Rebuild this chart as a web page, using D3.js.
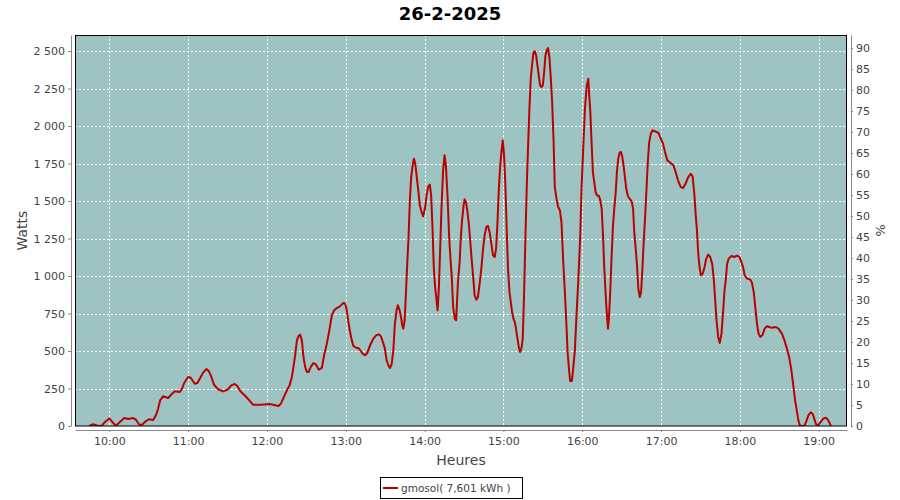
<!DOCTYPE html>
<html><head><meta charset="utf-8">
<script src="https://cdn.jsdelivr.net/npm/d3@7"></script>
<style>body{margin:0;background:#fff}</style>
</head><body><svg id="c" width="900" height="500"></svg>
<script>
const chartTitle = "26-2-2025";
const seriesName = "gmosol( 7,601 kWh )";
const times = [
"09:44:36","09:46:00","09:47:48","09:50:24","09:54:12","09:56:42","10:00:00","10:02:18","10:04:54","10:08:06",
"10:11:24","10:14:24","10:18:12","10:20:18","10:22:36","10:24:36","10:27:06","10:30:12","10:33:24","10:35:30",
"10:37:12","10:38:42","10:41:00","10:44:48","10:47:54","10:49:54","10:53:42","10:55:24","10:57:00","11:00:00",
"11:02:00","11:05:06","11:07:06","11:09:36","11:11:24","11:14:00","11:15:42","11:17:42","11:19:42","11:22:48",
"11:26:36","11:29:54","11:32:54","11:35:30","11:37:30","11:39:48","11:43:00","11:46:06","11:49:24","11:55:42",
"12:02:00","12:06:18","12:08:48","12:10:36","12:12:36","12:15:12","12:17:12","12:19:00","12:20:12","12:21:30",
"12:22:48","12:24:00","12:25:18","12:26:36","12:27:48","12:29:06","12:30:24","12:31:36","12:33:24","12:35:24",
"12:37:24","12:39:30","12:41:48","12:43:30","12:45:36","12:47:30","12:49:24","12:51:06","12:53:12","12:55:06",
"12:57:00","12:58:12","12:59:30","13:00:48","13:02:00","13:03:18","13:04:36","13:05:48","13:07:48","13:09:54",
"13:11:24","13:12:54","13:14:42","13:16:24","13:18:30","13:21:00","13:23:06","13:25:06","13:26:48","13:28:36",
"13:29:48","13:31:06","13:32:24","13:33:36","13:34:54","13:36:12","13:37:24","13:38:42","13:39:42","13:41:00",
"13:42:00","13:43:00","13:43:48","13:44:48","13:45:48","13:46:48","13:47:48","13:48:48","13:49:48","13:50:54",
"13:51:54","13:52:54","13:53:54","13:55:12","13:56:24","13:57:42","13:58:54","14:00:30","14:01:30","14:02:42",
"14:04:00","14:05:00","14:06:00","14:07:00","14:08:00","14:09:24","14:09:54","14:10:54","14:11:54","14:12:54",
"14:14:06","14:15:12","14:16:12","14:17:30","14:18:42","14:19:42","14:20:42","14:21:42","14:23:00","14:24:00",
"14:25:24","14:26:42","14:27:24","14:28:24","14:29:42","14:30:30","14:31:30","14:32:30","14:33:48","14:34:48",
"14:36:00","14:37:06","14:38:06","14:39:24","14:40:36","14:41:54","14:43:12","14:44:24","14:45:42","14:47:00",
"14:48:12","14:49:30","14:50:48","14:52:06","14:53:24","14:54:24","14:55:24","14:56:24","14:57:24","14:58:30",
"14:59:30","15:00:30","15:01:30","15:02:30","15:03:30","15:04:36","15:05:36","15:06:36","15:07:36","15:08:36",
"15:09:36","15:10:42","15:11:42","15:12:42","15:13:42","15:14:42","15:15:42","15:16:48","15:17:48","15:18:48",
"15:19:48","15:20:48","15:21:48","15:22:54","15:23:54","15:24:54","15:25:54","15:26:54","15:27:54","15:29:00",
"15:30:00","15:31:00","15:32:00","15:33:00","15:34:00","15:35:06","15:36:06","15:37:06","15:38:12","15:39:06",
"15:40:24","15:41:42","15:43:00","15:44:12","15:45:30","15:46:48","15:48:06","15:48:48","15:49:48","15:50:48",
"15:52:06","15:53:06","15:54:24","15:55:42","15:56:54","15:58:30","15:59:30","16:00:42","16:02:00","16:03:18",
"16:04:36","16:05:18","16:06:06","16:07:06","16:08:06","16:09:06","16:10:12","16:11:12","16:12:42","16:13:42",
"16:14:48","16:15:48","16:16:48","16:17:48","16:18:48","16:19:36","16:20:18","16:21:18","16:22:24","16:23:24",
"16:24:24","16:25:30","16:26:24","16:27:24","16:28:30","16:29:30","16:30:30","16:31:36","16:32:36","16:33:30",
"16:34:36","16:35:36","16:36:36","16:37:42","16:38:42","16:39:36","16:40:42","16:41:42","16:42:42","16:43:48",
"16:44:48","16:45:48","16:46:48","16:47:48","16:48:48","16:49:54","16:50:54","16:52:12","16:53:30","16:55:30",
"16:58:00","16:59:48","17:01:30","17:03:00","17:04:48","17:07:18","17:09:24","17:11:06","17:12:54","17:14:54",
"17:16:42","17:18:42","17:20:30","17:22:30","17:24:00","17:25:18","17:26:18","17:27:18","17:28:18","17:29:18",
"17:30:18","17:31:48","17:33:06","17:34:24","17:35:54","17:37:24","17:38:54","17:40:12","17:41:12","17:42:12",
"17:43:30","17:44:42","17:46:00","17:47:18","17:48:18","17:49:12","17:50:18","17:51:30","17:53:36","17:55:36",
"17:57:54","17:59:36","18:01:06","18:02:24","18:03:36","18:05:30","18:08:00","18:09:12","18:10:30","18:11:42",
"18:13:00","18:14:12","18:15:30","18:17:18","18:18:48","18:20:36","18:22:18","18:24:24","18:26:24","18:28:24",
"18:29:54","18:32:00","18:33:54","18:35:48","18:37:30","18:39:00","18:40:30","18:42:00","18:43:30","18:44:30",
"18:45:36","18:47:06","18:49:06","18:50:24","18:52:06","18:53:54","18:55:24","18:56:36","18:57:54","18:59:42",
"19:01:30","19:03:30","19:05:18","19:06:48","19:08:30","19:09:18"
];
const watts = [
0,5,12,3,0,27,50,27,2,27,
53,47,53,42,12,5,27,45,40,72,
116,171,198,187,216,231,227,249,287,327,
322,282,287,327,356,380,367,327,276,245,
231,242,271,280,267,231,205,176,142,142,
147,138,134,149,187,238,271,327,394,472,
571,598,609,571,460,394,360,360,394,420,
409,376,387,472,549,638,738,771,787,794,
811,820,816,771,694,627,571,534,522,518,
500,483,472,487,538,582,605,611,598,549,
516,438,405,387,411,505,683,771,805,771,
727,671,649,705,882,1083,1260,1505,1660,1738,
1782,1749,1671,1571,1471,1427,1398,1460,1538,1594,
1609,1538,1327,1060,927,816,771,927,1194,1460,
1705,1805,1738,1527,1260,1116,993,794,716,705,
960,1094,1227,1360,1471,1511,1494,1438,1338,1227,
1094,983,871,842,860,949,1049,1171,1271,1327,
1334,1294,1216,1138,1127,1183,1338,1560,1716,1827,
1905,1805,1605,1316,1049,894,827,760,716,694,
649,582,527,494,516,582,871,1271,1605,1871,
2116,2316,2405,2494,2498,2471,2405,2338,2271,2260,
2271,2360,2471,2505,2520,2449,2316,2160,1894,1594,
1516,1460,1438,1360,1100,890,650,500,390,300,
300,383,505,751,951,1271,1593,1838,2105,2260,
2316,2205,2105,1894,1694,1627,1560,1538,1534,1505,
1449,1271,1049,882,738,649,716,894,1138,1338,
1449,1560,1694,1783,1822,1827,1794,1727,1649,1583,
1538,1520,1511,1494,1449,1294,1183,1072,916,860,
894,1049,1227,1383,1560,1755,1888,1949,1971,1965,
1954,1916,1882,1827,1771,1754,1738,1694,1638,1594,
1587,1616,1656,1682,1665,1549,1416,1305,1149,1060,
1005,1016,1060,1116,1143,1127,1082,971,838,705,
594,554,616,771,905,971,1082,1116,1134,1127,
1136,1127,1094,1060,1005,983,976,954,894,794,
683,616,594,609,649,665,660,654,660,656,
643,616,572,516,460,383,283,171,94,38,
5,0,0,27,71,91,82,49,12,5,
27,49,56,43,16,0
];
const wattTicks = [0,250,500,750,1000,1250,1500,1750,2000,2250,2500];
const pctTicks = [0,5,10,15,20,25,30,35,40,45,50,55,60,65,70,75,80,85,90];
const hourTicks = ["10:00","11:00","12:00","13:00","14:00","15:00","16:00","17:00","18:00","19:00"];
const xStart = "09:33:54", xEnd = "19:21:32";
const wattMax = 2607, pctMax = 93.1;

const FONT = "DejaVu Sans";
const L = 75, R = 847, T = 35, B = 426;
const parse = d3.timeParse("%H:%M:%S");
const parseHM = d3.timeParse("%H:%M");
const data = times.map((t, i) => ({t: parse(t), v: watts[i]}));

const x = d3.scaleTime().domain([parse(xStart), parse(xEnd)]).range([L, R]);
const y = d3.scaleLinear().domain([0, wattMax]).range([B, T]);
const y2 = d3.scaleLinear().domain([0, pctMax]).range([B, T]);
const loc = d3.formatLocale({decimal: ",", thousands: " ", grouping: [3], currency: ["", ""]});
const fmt = loc.format(",d");

const svg = d3.select("#c").attr("font-family", FONT);

svg.append("text").attr("x", 450).attr("y", 20).attr("text-anchor", "middle")
  .attr("font-weight", "bold").attr("font-size", 18).attr("fill", "#000").text(chartTitle);

svg.append("rect").attr("x", L).attr("y", T).attr("width", R - L).attr("height", B - T).attr("fill", "#9ec3c3");

const grid = svg.append("g").attr("stroke", "#fff").attr("stroke-width", 1).attr("stroke-dasharray", "2,2");
grid.selectAll("line.h").data(wattTicks.filter(d => d > 0)).join("line")
  .attr("x1", L).attr("x2", R).attr("y1", d => Math.round(y(d)) + 0.5).attr("y2", d => Math.round(y(d)) + 0.5);
grid.selectAll("line.v").data(hourTicks.map(parseHM)).join("line")
  .attr("y1", T).attr("y2", B).attr("x1", d => Math.round(x(d)) + 0.5).attr("x2", d => Math.round(x(d)) + 0.5);

svg.append("clipPath").attr("id", "clip").append("rect").attr("x", L).attr("y", T - 2).attr("width", R - L).attr("height", B - T + 2);
svg.append("path").datum(data).attr("clip-path", "url(#clip)")
  .attr("fill", "none").attr("stroke", "#bb0000").attr("stroke-width", 2).attr("stroke-linejoin", "round")
  .attr("d", d3.line().x(d => x(d.t)).y(d => y(d.v)));

svg.append("rect").attr("x", L + 0.5).attr("y", T + 0.5).attr("width", R - L - 1).attr("height", B - T - 0.5)
  .attr("fill", "none").attr("stroke", "#000").attr("stroke-width", 1);

function styleAxis(g) {
  g.select(".domain").attr("stroke", "#888");
  g.selectAll(".tick line").attr("stroke", "#888");
  g.selectAll(".tick text").attr("fill", "#444").attr("font-size", 11).attr("font-family", FONT);
}
svg.append("g").attr("transform", "translate(71,0)")
  .call(d3.axisLeft(y).tickValues(wattTicks).tickFormat(fmt).tickSize(3).tickSizeOuter(0).tickPadding(3))
  .call(styleAxis);
svg.append("g").attr("transform", "translate(851,0)")
  .call(d3.axisRight(y2).tickValues(pctTicks).tickFormat(d3.format("d")).tickSize(2).tickSizeOuter(0).tickPadding(3))
  .call(styleAxis);
svg.append("g").attr("transform", "translate(0,430)")
  .call(d3.axisBottom(x).tickValues(hourTicks.map(parseHM)).tickFormat(d3.timeFormat("%H:%M")).tickSize(2).tickSizeOuter(0).tickPadding(5))
  .call(styleAxis);

svg.append("text").attr("transform", "translate(27,230.5) rotate(-90)").attr("text-anchor", "middle")
  .attr("font-size", 14).attr("fill", "#444").text("Watts");
svg.append("text").attr("transform", "translate(876,230.5) rotate(90)").attr("text-anchor", "middle")
  .attr("font-size", 13).attr("fill", "#444").text("%");
svg.append("text").attr("x", 461).attr("y", 465).attr("text-anchor", "middle")
  .attr("font-size", 14).attr("fill", "#444").text("Heures");

const lg = svg.append("g");
lg.append("rect").attr("x", 380.5).attr("y", 477.5).attr("width", 142).attr("height", 21)
  .attr("fill", "#fff").attr("stroke", "#000");
lg.append("line").attr("x1", 383).attr("x2", 398).attr("y1", 488).attr("y2", 488)
  .attr("stroke", "#bb0000").attr("stroke-width", 2);
lg.append("text").attr("x", 401).attr("y", 492).attr("font-size", 10.5).attr("fill", "#444").text(seriesName);
</script>
</body></html>
